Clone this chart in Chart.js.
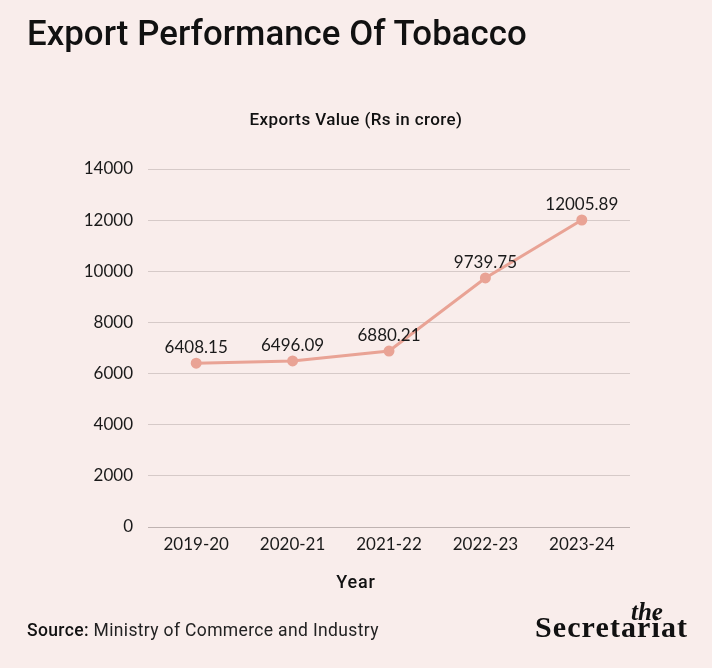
<!DOCTYPE html>
<html>
<head>
<meta charset="utf-8">
<script src="https://cdn.jsdelivr.net/npm/chart.js@4"></script>
<style>
  html, body { margin:0; padding:0; background:#F9EDEB; }
  #wrap { position:relative; width:712px; height:668px; overflow:hidden; background:#F9EDEB; }
  #c { position:absolute; left:0; top:0; }
  .t { position:absolute; color:#111; white-space:nowrap; }
  #title { left:27px; top:13px; font-family:Roboto, sans-serif; font-weight:500; font-size:34.8px; letter-spacing:0.05px; }
  #sub { left:0; width:712px; text-align:center; top:109px; font-family:Roboto, sans-serif; font-weight:500; font-size:17px; letter-spacing:0.4px; }
  #xt { left:0; width:712px; text-align:center; top:571px; font-family:Roboto, sans-serif; font-weight:500; font-size:18px; letter-spacing:0.8px; }
  #src { left:27px; top:620px; font-family:Roboto, sans-serif; font-size:17.5px; color:#222; letter-spacing:0.35px; }
  #src b { font-weight:500; color:#111; }
  #logo1 { left:631px; top:598px; font-family:"Liberation Serif", serif; font-style:italic; font-weight:bold; font-size:25px; }
  #logo2 { left:535px; top:610px; font-family:"Liberation Serif", serif; font-weight:bold; font-size:30px; letter-spacing:1.1px; }
</style>
</head>
<body>
<div id="wrap">
  <canvas id="c" width="712" height="668"></canvas>
  <div class="t" id="title">Export Performance Of Tobacco</div>
  <div class="t" id="sub">Exports Value (Rs in crore)</div>
  <div class="t" id="xt">Year</div>
  <div class="t" id="src"><b>Source:</b> Ministry of Commerce and Industry</div>
  <div class="t" id="logo1">the</div>
  <div class="t" id="logo2">Secretariat</div>
</div>
<script>
const years = ["2019-20", "2020-21", "2021-22", "2022-23", "2023-24"];
const exportsValue = [6408.15, 6496.09, 6880.21, 9739.75, 12005.89];
const yTicks = [0, 2000, 4000, 6000, 8000, 10000, 12000, 14000];

const labelFont = '17px Lato, "Open Sans", sans-serif';

const dataLabels = {
  id: 'dataLabels',
  afterDatasetsDraw(chart) {
    const ctx = chart.ctx;
    const meta = chart.getDatasetMeta(0);
    ctx.save();
    ctx.font = labelFont;
    ctx.fillStyle = '#1a1a1a';
    ctx.textAlign = 'center';
    ctx.textBaseline = 'alphabetic';
    meta.data.forEach((pt, i) => {
      ctx.fillText(exportsValue[i].toFixed(2), pt.x, pt.y - 10);
    });
    ctx.restore();
  }
};

new Chart(document.getElementById('c'), {
  type: 'line',
  data: {
    labels: years,
    datasets: [{
      data: exportsValue,
      borderColor: '#E9A395',
      backgroundColor: '#E9A395',
      borderWidth: 3,
      pointRadius: 4,
      pointHoverRadius: 4,
      tension: 0,
      fill: false
    }]
  },
  options: {
    responsive: false,
    animation: false,
    events: [],
    layout: { padding: { top: 169, right: 82, bottom: 0, left: 0 } },
    plugins: { legend: { display: false }, tooltip: { enabled: false }, title: { display: false } },
    scales: {
      x: {
        offset: true,
        grid: { display: false, drawTicks: false },
        border: { display: false },
        ticks: { color: '#1a1a1a', font: { family: 'Lato, "Open Sans", sans-serif', size: 17 }, padding: 7 },
        afterFit(scale) { scale.height = 141; }
      },
      y: {
        min: 0, max: 14000,
        afterBuildTicks(scale) { scale.ticks = yTicks.map(v => ({ value: v })); },
        grid: {
          drawTicks: false,
          color: ctx => (ctx.tick && ctx.tick.value === 0) ? '#BFB3B1' : '#D6CAC8',
          lineWidth: 1
        },
        border: { display: false },
        ticks: {
          color: '#1a1a1a',
          font: { family: 'Lato, "Open Sans", sans-serif', size: 17 },
          padding: 15,
          callback: v => String(v)
        },
        afterFit(scale) { scale.width = 148; }
      }
    }
  },
  plugins: [dataLabels]
});
</script>
</body>
</html>
